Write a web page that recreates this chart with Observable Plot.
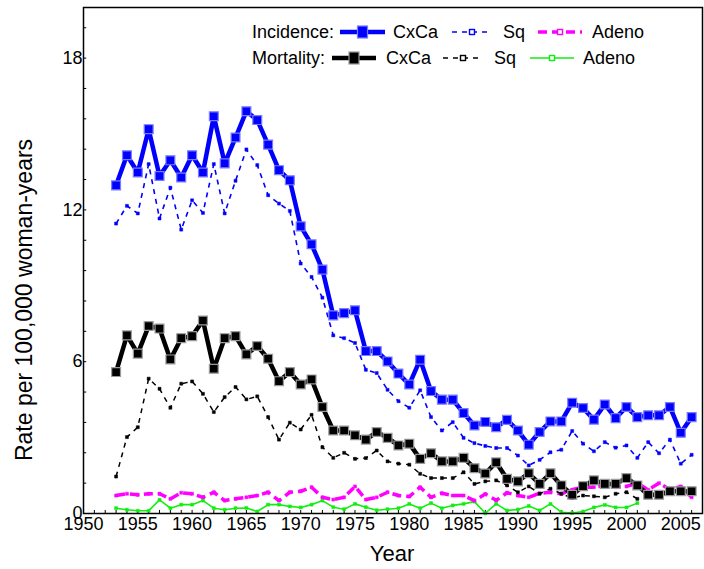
<!DOCTYPE html>
<html><head><meta charset="utf-8">
<script src="https://cdn.jsdelivr.net/npm/d3@7"></script>
<script src="https://cdn.jsdelivr.net/npm/@observablehq/plot@0.6"></script>
<style>body{margin:0;background:#fff} #chart svg{display:block}</style>
</head><body><div id="chart"></div>
<script>
// ---- data ----
const yearsInc = d3.range(1953, 2007);   // 1953..2006
const yearsMort = d3.range(1953, 2007);
const yearsMortSub = d3.range(1953, 2002); // 1953..2001

const incCxCa = [12.97,14.16,13.48,15.19,13.34,13.96,13.28,14.16,13.48,15.70,13.84,14.86,15.90,15.55,14.58,13.57,13.17,11.35,10.64,9.64,7.83,7.92,8.03,6.42,6.42,6.01,5.53,5.10,6.08,4.84,4.50,4.50,3.97,3.48,3.62,3.41,3.70,3.28,2.72,3.22,3.64,3.64,4.38,4.17,3.71,4.31,3.77,4.21,3.81,3.88,3.88,4.21,3.19,3.81];
const incSq = [11.46,12.16,11.86,13.81,11.66,12.88,11.22,12.38,11.88,13.81,11.86,13.15,14.39,13.77,12.58,12.25,11.96,9.88,9.35,8.53,7.04,6.93,6.74,5.68,5.55,4.89,4.44,4.18,4.87,3.81,3.28,3.61,2.99,2.78,2.67,2.59,2.59,2.29,1.90,2.12,2.42,2.52,3.26,2.76,2.46,2.82,2.60,2.69,2.20,2.82,2.38,2.92,1.97,2.32];
const incAdeno = [0.71,0.78,0.74,0.78,0.78,0.58,0.82,0.78,0.64,0.84,0.51,0.58,0.64,0.71,0.84,0.51,0.84,0.88,1.04,0.64,0.55,0.64,1.07,0.55,0.64,0.84,0.71,0.67,1.04,0.64,0.80,0.71,0.71,0.51,0.77,0.52,0.82,0.71,0.64,0.80,0.84,0.78,0.94,1.04,1.04,1.11,1.04,1.07,1.20,0.94,1.20,0.94,1.07,0.64];
const mortCxCa = [5.59,7.04,6.32,7.41,7.31,6.09,6.93,7.01,7.63,5.72,6.93,7.01,6.29,6.62,6.12,5.23,5.59,5.10,5.30,4.21,3.28,3.28,3.09,2.92,3.22,2.99,2.69,2.76,2.16,2.38,2.06,2.06,2.20,1.79,1.58,2.02,1.37,1.27,1.59,1.17,1.59,1.11,0.74,1.08,1.31,1.17,1.17,1.40,1.11,0.74,0.74,0.88,0.88,0.88];
const mortSq = [1.46,3.02,3.41,5.33,4.93,4.18,5.13,5.22,4.73,4.01,4.60,5.00,4.51,4.63,3.81,2.92,3.59,3.32,3.90,2.62,2.20,2.40,2.16,2.19,2.49,2.06,1.97,1.93,1.57,1.40,1.40,1.40,1.63,1.17,1.27,1.31,1.11,0.84,1.07,0.78,0.98,0.78,0.61,0.71,0.68,0.64,0.78,0.84,0.58];
const mortAdeno = [0.21,0.15,0.11,0.11,0.54,0.21,0.35,0.35,0.51,0.21,0.15,0.21,0.22,0.08,0.35,0.35,0.28,0.24,0.35,0.51,0.25,0.17,0.38,0.25,0.13,0.17,0.21,0.38,0.21,0.41,0.21,0.32,0.38,0.47,0.01,0.38,0.12,0.16,0.30,0.12,0.38,0.05,0.02,0.08,0.24,0.34,0.24,0.24,0.41];

const xTickLabels = d3.range(1950, 2006, 5);
const yTickLabels = [0, 6, 12, 18];
const yMinorTicks = d3.range(0, 20, 1.2);
const xMinorTicks = d3.range(1950, 2007, 1);

const seriesNames = {incCxCa:"CxCa", incSq:"Sq", incAdeno:"Adeno", mortCxCa:"CxCa", mortSq:"Sq", mortAdeno:"Adeno"};
const rowTitles = ["Incidence:", "Mortality:"];

// ---- styles ----
const S = {
  incCxCa:  {stroke:"#0000ff", sw:4.5, dash:null,  r:5,   fill:"#0000ff", mstroke:"#7a7aff", msw:1.2},
  incSq:    {stroke:"#0000ff", sw:1.6, dash:"5,5", r:1.7, fill:"#0000ff", mstroke:"#0000ff", msw:0.5},
  incAdeno: {stroke:"#ff00ff", sw:3.5, dash:"9,5", r:1.7, fill:"#ff00ff", mstroke:"#ff00ff", msw:0.5},
  mortCxCa: {stroke:"#000000", sw:4.5, dash:null,  r:5,   fill:"#000000", mstroke:"#9a9a9a", msw:1.2},
  mortSq:   {stroke:"#000000", sw:1.5, dash:"5,5", r:1.7, fill:"#000000", mstroke:"#000000", msw:0.5},
  mortAdeno:{stroke:"#11ee11", sw:1.6, dash:null,  r:1.7, fill:"#11ee11", mstroke:"#11ee11", msw:0.5}
};

const rows = (ys, vals) => vals.map((v, i) => ({year: ys[i], value: v}));
const D = {
  mortAdeno: rows(yearsMortSub, mortAdeno),
  incAdeno: rows(yearsInc, incAdeno),
  mortSq: rows(yearsMortSub, mortSq),
  incSq: rows(yearsInc, incSq),
  mortCxCa: rows(yearsMort, mortCxCa),
  incCxCa: rows(yearsInc, incCxCa)
};

const seriesMarks = [];
for (const key of Object.keys(D)) {
  const s = S[key];
  seriesMarks.push(Plot.line(D[key], {x:"year", y:"value", stroke:s.stroke, strokeWidth:s.sw, strokeDasharray:s.dash, strokeLinejoin:"miter", strokeLinecap:"butt"}));
  seriesMarks.push(Plot.dot(D[key], {x:"year", y:"value", symbol:"square", r:s.r, fill:s.fill, stroke:s.mstroke, strokeWidth:s.msw}));
}

const chart = Plot.plot({
  width: 704, height: 569,
  marginLeft: 83, marginRight: 2, marginTop: 7, marginBottom: 56,
  x: {domain: [1950, 2007]},
  y: {domain: [0, 20]},
  style: {fontFamily: "'Liberation Sans', Arial, sans-serif", fontSize: "18px", color: "#000", background: "#fff", overflow: "visible"},
  marks: [
    Plot.axisX({ticks: xTickLabels, tickFormat: d => String(d), tickSize: 0, tickPadding: 4, label: null}),
    Plot.axisY({ticks: yTickLabels, tickFormat: d => String(d), tickSize: 0, tickPadding: 1, label: null}),
    Plot.ruleY(yMinorTicks, {x1: 1950, x2: 1950.3, stroke: "#000", strokeWidth: 1}),
    Plot.ruleX(xMinorTicks, {y1: 0, y2: 0.12, stroke: "#000", strokeWidth: 1}),
    ...seriesMarks,
    Plot.frame({stroke: "#000", strokeWidth: 1.5})
  ]
});
document.getElementById("chart").appendChild(chart);

// ---- titles & legend ----
const svg = d3.select(chart);
const font = "'Liberation Sans', Arial, sans-serif";
svg.append("text").attr("x", 392).attr("y", 561).attr("text-anchor", "middle")
  .attr("font-family", font).attr("font-size", 22).attr("fill", "#000").text("Year");
svg.append("text").attr("transform", "translate(32,300) rotate(-90)").attr("text-anchor", "middle")
  .attr("font-family", font).attr("font-size", 23).attr("fill", "#000").text("Rate per 100,000 woman-years");

const legendLayout = [
  {y: 32, tx: 252, items: [["incCxCa",340,385,393],["incSq",452,492,503],["incAdeno",538,582,592]]},
  {y: 58, tx: 252, items: [["mortCxCa",332,376,386],["mortSq",443,483,494],["mortAdeno",530,574,583]]}
];
const lg = svg.append("g").attr("text-anchor", "start");
legendLayout.forEach((row, ri) => {
  lg.append("text").attr("x", row.tx).attr("y", row.y).attr("dy", "0.35em").attr("text-anchor", "start")
    .attr("font-family", font).attr("font-size", 18).attr("fill", "#000").text(rowTitles[ri]);
  row.items.forEach(([key, x1, x2, tx]) => {
    const s = S[key];
    lg.append("line").attr("x1", x1).attr("x2", x2).attr("y1", row.y).attr("y2", row.y)
      .attr("stroke", s.stroke).attr("stroke-width", s.sw).attr("stroke-dasharray", s.dash);
    const mx = (x1 + x2) / 2;
    if (s.r > 3) {
      lg.append("rect").attr("x", mx - 5).attr("y", row.y - 6).attr("width", 10).attr("height", 12)
        .attr("fill", s.fill).attr("stroke", s.mstroke).attr("stroke-width", 1.2);
    } else {
      lg.append("rect").attr("x", mx - 2.5).attr("y", row.y - 2.5).attr("width", 5).attr("height", 5)
        .attr("fill", "#fff").attr("stroke", s.stroke).attr("stroke-width", 1.4);
    }
    lg.append("text").attr("x", tx).attr("y", row.y).attr("dy", "0.35em").attr("text-anchor", "start")
      .attr("font-family", font).attr("font-size", 18).attr("fill", "#000").text(seriesNames[key]);
  });
});
</script>
</body></html>
